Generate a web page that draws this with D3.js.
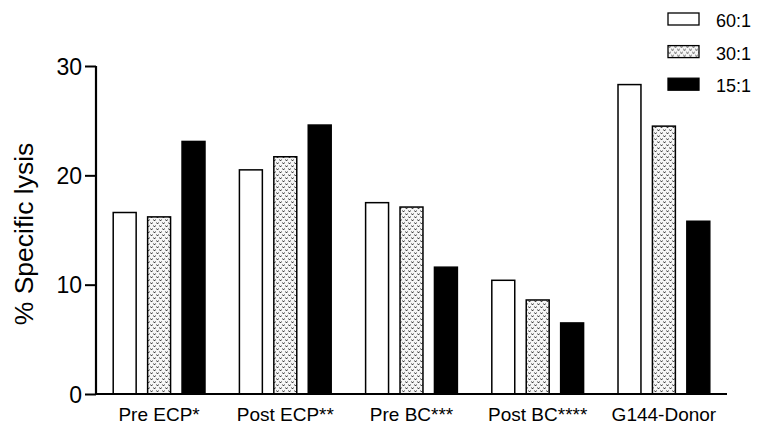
<!DOCTYPE html>
<html>
<head>
<script src="https://d3js.org/d3.v7.min.js"></script>
<style>
body { margin: 0; background: white; }
text { font-family: "Liberation Sans", Arial, sans-serif; fill: black; }
</style>
</head>
<body>
<svg id="chart" width="764" height="433"></svg>
<script>
// data
var groups = ["Pre ECP*", "Post ECP**", "Pre BC***", "Post BC****", "G144-Donor"];
var ratios = ["60:1", "30:1", "15:1"];
var lysis60 = [16.6, 20.5, 17.5, 10.4, 28.3];
var lysis30 = [16.2, 21.7, 17.1, 8.6, 24.5];
var lysis15 = [23.1, 24.6, 11.6, 6.5, 15.8];
var yTicks = [0, 10, 20, 30];

var series = [lysis60, lysis30, lysis15];
var fills = ["white", "url(#dots)", "black"];

var svg = d3.select("#chart");

// little v-shaped dotted fabric pattern
var pat = svg.append("defs").append("pattern")
    .attr("id", "dots")
    .attr("patternUnits", "userSpaceOnUse")
    .attr("width", 6)
    .attr("height", 6);
pat.append("rect").attr("width", 6).attr("height", 6).attr("fill", "#f6f6f6");
pat.append("path")
    .attr("d", "M0.5,0.5 L1.5,2 L2.5,0.5 M3.5,3.5 L4.5,5 L5.5,3.5")
    .attr("stroke", "#222")
    .attr("stroke-width", 0.9)
    .attr("fill", "none");

var plotLeft = 96, plotRight = 727, plotTop = 66, plotBottom = 394;

var x0 = d3.scaleBand().domain(groups).range([plotLeft, plotRight]).padding(0);
var x1 = d3.scaleBand().domain(d3.range(3)).range([0, x0.bandwidth()])
    .paddingInner(1/3).paddingOuter(0.5);
var y = d3.scaleLinear().domain([0, 30]).range([plotBottom, plotTop]);

// bars
groups.forEach(function(g, gi) {
    series.forEach(function(s, si) {
        svg.append("rect")
            .attr("x", x0(g) + x1(si))
            .attr("y", y(s[gi]))
            .attr("width", x1.bandwidth())
            .attr("height", y(0) - y(s[gi]))
            .attr("fill", fills[si])
            .attr("stroke", "black")
            .attr("stroke-width", 1.5);
    });
});

// y axis
var yAxis = svg.append("g")
    .attr("transform", "translate(" + plotLeft + ",0)")
    .call(d3.axisLeft(y).tickValues(yTicks).tickSize(11).tickPadding(3));
yAxis.select(".domain").attr("stroke-width", 2.2).attr("d", "M0," + plotTop + "V" + (plotBottom + 1));
yAxis.selectAll(".tick line").attr("stroke-width", 2);
yAxis.selectAll("text").style("font-size", "23px").attr("dy", "0.36em");

// x axis
var xAxis = svg.append("g")
    .attr("transform", "translate(0," + plotBottom + ")")
    .call(d3.axisBottom(x0).tickSize(0).tickPadding(14));
xAxis.select(".domain").attr("stroke-width", 2.2).attr("d", "M" + (plotLeft - 1) + ",0H" + plotRight);
xAxis.selectAll("text").style("font-size", "19px");

// y title
svg.append("text")
    .attr("transform", "translate(33,234) rotate(-90)")
    .attr("text-anchor", "middle")
    .style("font-size", "26.5px")
    .text("% Specific lysis");

// legend
var legend = svg.append("g").attr("transform", "translate(668,13)");
ratios.forEach(function(r, i) {
    var row = legend.append("g").attr("transform", "translate(0," + (i * 32.6) + ")");
    row.append("rect")
        .attr("width", 31)
        .attr("height", 12)
        .attr("fill", fills[i])
        .attr("stroke", "black")
        .attr("stroke-width", 1.3);
    row.append("text")
        .attr("x", 48)
        .attr("y", 14)
        .style("font-size", "18px")
        .text(r);
});
</script>
</body>
</html>
